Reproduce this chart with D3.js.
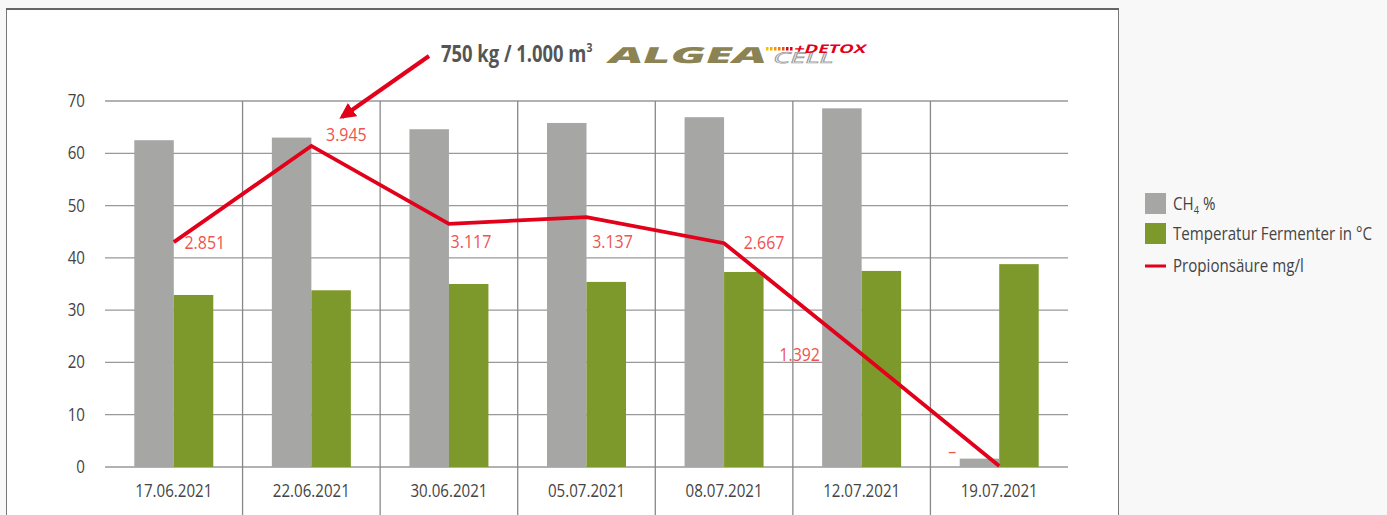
<!DOCTYPE html>
<html>
  <head>
    <meta charset="UTF-8">
    <title>Algea Cell Detox</title>
    <script src="https://d3js.org/d3.v7.min.js"></script>
    <style>
      body { margin: 0; background: #f8f8f8; }
      text { font-family: "Open Sans", sans-serif; }
    </style>
  </head>
  <body>
    <svg width="1387" height="515"></svg>

    <script>

const dates = ["17.06.2021", "22.06.2021", "30.06.2021", "05.07.2021", "08.07.2021", "12.07.2021", "19.07.2021"];
const ch4 = [62.5, 63, 64.6, 65.8, 66.9, 68.6, 1.6];
const temperatur = [32.9, 33.8, 35, 35.4, 37.3, 37.5, 38.8];
const propionLevel = [43, 61.4, 46.5, 47.8, 42.8, 21.6, 0.2];
const propionLabels = ["2.851", "3.945", "3.117", "3.137", "2.667", "1.392", "–"];
const yTicks = [0, 10, 20, 30, 40, 50, 60, 70];

const svg = d3.select("svg");
const narrow = (px, py) => `translate(${px},${py}) scale(0.84,1)`;

// white chart panel with frame
svg.append("rect")
  .attr("x", 6.5).attr("y", 9.5)
  .attr("width", 1112).attr("height", 520)
  .attr("fill", "#fff")
  .attr("stroke", "#777")
  .attr("stroke-width", 1);
svg.append("line")
  .attr("x1", 6).attr("x2", 1119).attr("y1", 9).attr("y2", 9)
  .attr("stroke", "#666").attr("stroke-width", 2);

const x = d3.scaleBand().domain(dates).range([105, 1068]);
const y = d3.scaleLinear().domain([0, 70]).range([467, 101]);

// horizontal grid
svg.append("g")
  .selectAll("line")
  .data(yTicks)
  .join("line")
  .attr("x1", 105).attr("x2", 1068)
  .attr("y1", d => y(d)).attr("y2", d => y(d))
  .attr("stroke", "#999").attr("stroke-width", 1.3);

// vertical separators
svg.append("g")
  .selectAll("line")
  .data(dates.slice(1))
  .join("line")
  .attr("x1", d => x(d)).attr("x2", d => x(d))
  .attr("y1", y(70)).attr("y2", 515)
  .attr("stroke", "#888").attr("stroke-width", 1.3);

svg.append("g")
  .selectAll("text")
  .data(yTicks)
  .join("text")
  .attr("transform", d => narrow(85, y(d) + 6))
  .attr("text-anchor", "end")
  .attr("font-size", 18)
  .attr("fill", "#444")
  .text(d => d);

svg.append("g")
  .selectAll("text")
  .data(dates)
  .join("text")
  .attr("transform", d => narrow(x(d) + x.bandwidth() / 2, 497))
  .attr("text-anchor", "middle")
  .attr("font-size", 18)
  .attr("fill", "#444")
  .text(d => d);

const barW = 39.5;
const cx = d => x(d) + x.bandwidth() / 2;

svg.append("g")
  .selectAll("rect")
  .data(dates)
  .join("rect")
  .attr("x", d => cx(d) - barW)
  .attr("y", (d, i) => y(ch4[i]))
  .attr("width", barW)
  .attr("height", (d, i) => y(0) - y(ch4[i]))
  .attr("fill", "#a6a6a5");

svg.append("g")
  .selectAll("rect")
  .data(dates)
  .join("rect")
  .attr("x", d => cx(d))
  .attr("y", (d, i) => y(temperatur[i]))
  .attr("width", barW)
  .attr("height", (d, i) => y(0) - y(temperatur[i]))
  .attr("fill", "#7e992b");

const line = d3.line()
  .x((d, i) => cx(dates[i]))
  .y(d => y(d));

svg.append("path")
  .datum(propionLevel)
  .attr("d", line)
  .attr("fill", "none")
  .attr("stroke", "#e2001a")
  .attr("stroke-width", 3.8);

// label placement next to each point
const labelShift = [[31, 7], [35, -5], [22, 24], [26, 31], [40, 6], [-62, 7], [-47, -8]];
svg.append("g")
  .selectAll("text")
  .data(propionLabels)
  .join("text")
  .attr("transform", (d, i) => narrow(cx(dates[i]) + labelShift[i][0], y(propionLevel[i]) + labelShift[i][1]))
  .attr("text-anchor", "middle")
  .attr("font-size", 19)
  .attr("fill", "#ef5350")
  .text(d => d);

// annotation arrow + title
svg.append("defs").append("marker")
  .attr("id", "head")
  .attr("viewBox", "0 0 10 10")
  .attr("refX", 8).attr("refY", 5)
  .attr("markerWidth", 4).attr("markerHeight", 4)
  .attr("orient", "auto")
  .append("path")
  .attr("d", "M0,0 L10,5 L0,10 Z")
  .attr("fill", "#e2001a");

svg.append("line")
  .attr("x1", 429).attr("y1", 56)
  .attr("x2", 342).attr("y2", 117)
  .attr("stroke", "#e2001a").attr("stroke-width", 4)
  .attr("marker-end", "url(#head)");

const title = svg.append("text")
  .attr("transform", "translate(441,62) scale(0.8,1)")
  .attr("font-size", 23)
  .attr("font-weight", "bold")
  .attr("fill", "#555");
title.append("tspan").text("750 kg / 1.000 m");
title.append("tspan").attr("font-size", 13).attr("dy", -10).text("3");

// logo
svg.append("text")
  .attr("transform", "translate(606,63) skewX(-20)")
  .attr("font-size", 22)
  .attr("font-weight", "800")
  .attr("fill", "#8b8353")
  .attr("textLength", 158)
  .attr("lengthAdjust", "spacingAndGlyphs")
  .text("ALGEA");

svg.append("text")
  .attr("transform", "translate(772,63) skewX(-20)")
  .attr("font-size", 15)
  .attr("fill", "#fff")
  .attr("stroke", "#999")
  .attr("stroke-width", 0.7)
  .attr("textLength", 60)
  .attr("lengthAdjust", "spacingAndGlyphs")
  .text("CELL");

const dashColors = ["#f4c300", "#f4b000", "#f39200", "#ef7d00", "#e94e1b", "#e2001a", "#e2001a"];
svg.append("g")
  .selectAll("rect")
  .data(dashColors)
  .join("rect")
  .attr("x", (d, i) => 766 + i * 4)
  .attr("y", 47)
  .attr("width", 2.5).attr("height", 3.5)
  .attr("fill", d => d);

svg.append("text")
  .attr("transform", "translate(793,53) skewX(-18)")
  .attr("font-size", 12)
  .attr("font-weight", "bold")
  .attr("fill", "#e2001a")
  .attr("textLength", 72)
  .attr("lengthAdjust", "spacingAndGlyphs")
  .text("+DETOX");

// legend
const legend = svg.append("g").attr("transform", "translate(1145,193)");
legend.append("rect").attr("width", 21).attr("height", 21).attr("fill", "#a6a6a5");
const ch4Text = legend.append("text").attr("transform", narrow(28, 17)).attr("font-size", 18).attr("fill", "#444");
ch4Text.append("tspan").text("CH");
ch4Text.append("tspan").attr("font-size", 11).attr("dy", 4).text("4");
ch4Text.append("tspan").attr("dy", -4).text(" %");

legend.append("rect").attr("y", 30).attr("width", 21).attr("height", 21).attr("fill", "#7e992b");
legend.append("text").attr("transform", narrow(28, 47)).attr("font-size", 18).attr("fill", "#444")
  .text("Temperatur Fermenter in °C");

legend.append("line").attr("x1", 0).attr("x2", 21).attr("y1", 73).attr("y2", 73)
  .attr("stroke", "#e2001a").attr("stroke-width", 3);
legend.append("text").attr("transform", narrow(28, 79)).attr("font-size", 18).attr("fill", "#444")
  .text("Propionsäure mg/l");

    </script>
  </body>
</html>
